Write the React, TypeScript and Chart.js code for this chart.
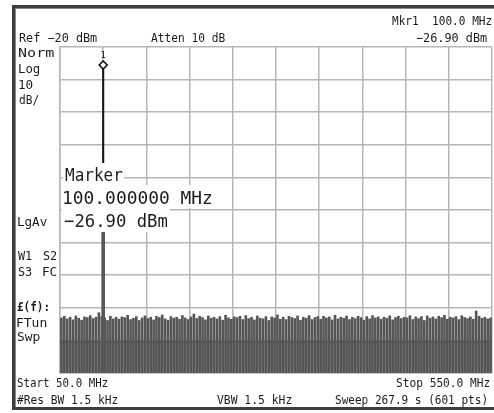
import React, { useEffect, useRef } from "react";
import { Chart, registerables } from "chart.js";

Chart.register(...registerables);

// ---- sweep / display settings ----
const startMHz = [50.0];
const stopMHz = [550.0];
const refLevelDbm = [-20];
const bottomLevelDbm = [-120];

// ---- marker / signal ----
const markerFreqMHz = [100.0];
const markerLevelDbm = [-26.9];
const signalSkirtDbm = [-66];

// ---- noise floor (peak of each displayed trace column, dBm) ----
const noiseTopDbm = [
  -103.1, -102.6, -103.4, -102.9, -103.7, -102.5, -103.2, -103.8, -102.8, -103.0,
  -102.4, -103.3, -102.9, -101.5, -102.7, -103.1, -103.9, -102.6, -103.4, -102.9,
  -103.5, -102.8, -103.0, -102.3, -103.6, -103.2, -102.7, -103.9, -103.1, -102.5,
  -103.3, -102.9, -103.7, -102.6, -103.0, -102.2, -103.4, -103.8, -102.7, -103.2,
  -102.9, -103.5, -102.4, -103.1, -103.6, -102.8, -101.9, -103.3, -102.6, -103.0,
  -103.7, -102.5, -103.2, -102.9, -103.4, -102.7, -103.8, -102.3, -103.1, -103.5,
  -102.8, -103.0, -102.6, -103.6, -102.4, -103.3, -102.9, -103.7, -102.5, -103.2,
  -103.4, -102.7, -103.9, -102.8, -103.1, -102.2, -103.5, -102.9, -103.6, -102.6,
  -103.0, -103.3, -102.5, -103.8, -102.9, -103.2, -102.4, -103.6, -103.0, -102.7,
  -103.5, -102.6, -103.1, -102.8, -103.7, -102.3, -103.4, -102.9, -103.2, -102.5,
  -103.6, -102.9, -103.3, -102.6, -103.0, -103.8, -102.7, -103.4, -102.4, -103.1,
  -102.8, -103.5, -102.9, -103.2, -102.5, -103.7, -103.0, -102.6, -103.3, -102.9,
  -103.1, -102.4, -103.6, -102.8, -103.3, -102.7, -103.9, -102.5, -103.2, -102.8,
  -103.4, -102.6, -103.0, -102.3, -103.5, -102.9, -103.1, -102.7, -103.6, -102.4,
  -103.0, -103.3, -102.8, -103.5, -101.0, -102.6, -103.2, -102.9, -103.4, -103.1,
];

// level where the trace's lower excursions pile up (drawn as a grey band)
const traceLowDbm = [-110.5, -110.5];

// ---- annotation text ----
const headerTexts = ["Ref \u221220 dBm", "Atten 10 dB", "Mkr1  100.0 MHz", "\u221226.90 dBm"];
const sideTexts = ["Norm", "Log", "10", "dB/", "LgAv", "W1", "S2", "S3", "FC", "\u00a3(f):", "FTun", "Swp"];
const footerTexts = ["Start 50.0 MHz", "Stop 550.0 MHz", "#Res BW 1.5 kHz", "VBW 1.5 kHz", "Sweep 267.9 s (601 pts)"];
const markerTexts = ["Marker", "100.000000 MHz", "\u221226.90 dBm"];
const markerNumber = ["1"];

const MONO = '"DejaVu Sans Mono", "Liberation Mono", monospace';
const TEXT_COLOR = "#1c1c1c";

function fitText(
  ctx: CanvasRenderingContext2D,
  text: string,
  x: number,
  baseline: number,
  width: number,
  font: string
) {
  ctx.save();
  ctx.font = font;
  ctx.textAlign = "left";
  ctx.textBaseline = "alphabetic";
  const m = ctx.measureText(text);
  const ink = m.actualBoundingBoxLeft + m.actualBoundingBoxRight;
  const sx = ink > 0 ? width / ink : 1;
  ctx.translate(x, baseline);
  ctx.scale(sx, 1);
  ctx.fillStyle = TEXT_COLOR;
  ctx.fillText(text, m.actualBoundingBoxLeft, 0);
  ctx.restore();
}

const analyzerPlugin = {
  id: "analyzerScreen",
  beforeDraw(chart: any) {
    const ctx: CanvasRenderingContext2D = chart.ctx;
    const W = chart.width;
    ctx.save();
    ctx.fillStyle = "#ffffff";
    ctx.fillRect(0, 0, chart.width, chart.height);
    // instrument frame
    ctx.fillStyle = "#3e3e3e";
    ctx.fillRect(12, 5, W - 12, 3);
    ctx.fillRect(12, 5, 3, 405);
    ctx.fillRect(12, 407, W - 12, 3);
    ctx.fillStyle = "#8a8a8a";
    ctx.fillRect(15, 8, W - 15, 1);
    ctx.fillRect(15, 8, 1, 399);
    ctx.restore();
  },
  afterDatasetsDraw(chart: any) {
    const ctx: CanvasRenderingContext2D = chart.ctx;
    const xs = chart.scales.x;
    const ys = chart.scales.y;
    ctx.save();
    // marker readout boxes (blank out grid / trace behind the text)
    ctx.fillStyle = "#ffffff";
    ctx.fillRect(63, 163, 61, 22);
    ctx.fillRect(62, 185, 153, 23);
    ctx.fillRect(62, 208, 108, 24);
    const bigFont = `18px ${MONO}`;
    fitText(ctx, markerTexts[0], 65, 181, 58, bigFont);
    fitText(ctx, markerTexts[1], 64, 204, 148, bigFont);
    fitText(ctx, markerTexts[2], 64, 227, 103, bigFont);

    // marker diamond sitting on the peak
    const px = xs.getPixelForValue(markerFreqMHz[0]);
    const py = ys.getPixelForValue(markerLevelDbm[0]);
    ctx.beginPath();
    ctx.moveTo(px, py - 8.5);
    ctx.lineTo(px + 4, py - 4.5);
    ctx.lineTo(px, py - 0.5);
    ctx.lineTo(px - 4, py - 4.5);
    ctx.closePath();
    ctx.fillStyle = "#ffffff";
    ctx.fill();
    ctx.strokeStyle = "#111111";
    ctx.lineWidth = 1.6;
    ctx.stroke();
    ctx.font = `9px ${MONO}`;
    ctx.fillStyle = TEXT_COLOR;
    ctx.textAlign = "center";
    ctx.textBaseline = "alphabetic";
    ctx.fillText(markerNumber[0], px, py - 11);
    ctx.restore();
  },
  afterDraw(chart: any) {
    const ctx: CanvasRenderingContext2D = chart.ctx;
    const f = `12px ${MONO}`;
    // header
    fitText(ctx, headerTexts[0], 19, 42, 78, f);
    fitText(ctx, headerTexts[1], 151, 42, 74, f);
    fitText(ctx, headerTexts[2], 392, 25, 100, f);
    fitText(ctx, headerTexts[3], 416, 42, 71, f);
    // left column
    fitText(ctx, sideTexts[0], 18, 57, 36, f);
    fitText(ctx, sideTexts[1], 19, 73, 21, f);
    fitText(ctx, sideTexts[2], 19, 89, 14, f);
    fitText(ctx, sideTexts[3], 19, 104, 20, f);
    fitText(ctx, sideTexts[4], 18, 226, 29, f);
    fitText(ctx, sideTexts[5], 18, 260, 14, f);
    fitText(ctx, sideTexts[6], 43, 260, 14, f);
    fitText(ctx, sideTexts[7], 18, 276, 14, f);
    fitText(ctx, sideTexts[8], 43, 276, 14, f);
    fitText(ctx, sideTexts[9], 17, 311, 31, `bold 12px ${MONO}`);
    fitText(ctx, sideTexts[10], 17, 327, 30, f);
    fitText(ctx, sideTexts[11], 17, 341, 23, f);
    // footer
    fitText(ctx, footerTexts[0], 17, 387, 91, f);
    fitText(ctx, footerTexts[1], 396, 387, 94, f);
    fitText(ctx, footerTexts[2], 17, 404, 101, f);
    fitText(ctx, footerTexts[3], 217, 404, 75, f);
    fitText(ctx, footerTexts[4], 335, 404, 151, f);
  },
};

export default function App() {
  const canvasRef = useRef<HTMLCanvasElement | null>(null);

  useEffect(() => {
    const canvas = canvasRef.current;
    if (!canvas) return;
    const start = startMHz[0];
    const stop = stopMHz[0];
    const bottom = bottomLevelDbm[0];
    const span = stop - start;
    const n = noiseTopDbm.length;

    const gridColor = "#b6b6b6";

    const chart = new Chart(canvas, {
      type: "bar",
      data: {
        datasets: [
          {
            type: "bar",
            label: "signal peak",
            data: markerFreqMHz.map((fq, i) => ({ x: fq, y: [signalSkirtDbm[i], markerLevelDbm[i]] })) as any,
            backgroundColor: "#161616",
            barThickness: 1.4,
            grouped: false,
            order: 0,
          } as any,
          {
            type: "bar",
            label: "signal skirt",
            data: markerFreqMHz.map((fq, i) => ({ x: fq, y: [bottom, signalSkirtDbm[i]] })) as any,
            backgroundColor: "#585858",
            barThickness: 3,
            grouped: false,
            order: 1,
          } as any,
          {
            type: "bar",
            label: "noise",
            data: noiseTopDbm.map((v, i) => ({ x: start + ((i + 0.5) * span) / n, y: [bottom, v] })) as any,
            backgroundColor: "#555555",
            barThickness: 2,
            grouped: false,
            order: 2,
          } as any,
          {
            type: "line",
            label: "trace low band",
            data: traceLowDbm.map((v, i) => ({ x: i === 0 ? start : stop, y: v })) as any,
            borderColor: "#333333",
            borderWidth: 1.5,
            backgroundColor: "#a4a4a4",
            fill: "start",
            pointRadius: 0,
            order: 3,
          } as any,
        ],
      },
      options: {
        animation: false,
        responsive: false,
        devicePixelRatio: 1,
        events: [],
        layout: { padding: { left: 60, top: 47, right: 2, bottom: 40 } },
        plugins: {
          legend: { display: false },
          tooltip: { enabled: false },
          title: { display: false },
        },
        scales: {
          x: {
            type: "linear",
            min: start,
            max: stop,
            offset: false,
            ticks: { display: false, stepSize: span / 10, maxTicksLimit: 12 },
            grid: { color: gridColor, lineWidth: 1.5, drawTicks: false, offset: false },
            border: { display: true, color: gridColor, width: 1.5 },
          },
          y: {
            type: "linear",
            min: bottom,
            max: refLevelDbm[0],
            beginAtZero: false,
            ticks: { display: false, stepSize: 10, maxTicksLimit: 12 },
            grid: { color: gridColor, lineWidth: 1.5, drawTicks: false },
            border: { display: true, color: gridColor, width: 1.5 },
          },
        },
      } as any,
      plugins: [analyzerPlugin],
    });

    return () => {
      chart.destroy();
    };
  }, []);

  return (
    <div style={{ position: "absolute", left: 0, top: 0, width: 494, height: 413, background: "#fff" }}>
      <canvas ref={canvasRef} width={494} height={413} style={{ display: "block", width: 494, height: 413 }} />
    </div>
  );
}
